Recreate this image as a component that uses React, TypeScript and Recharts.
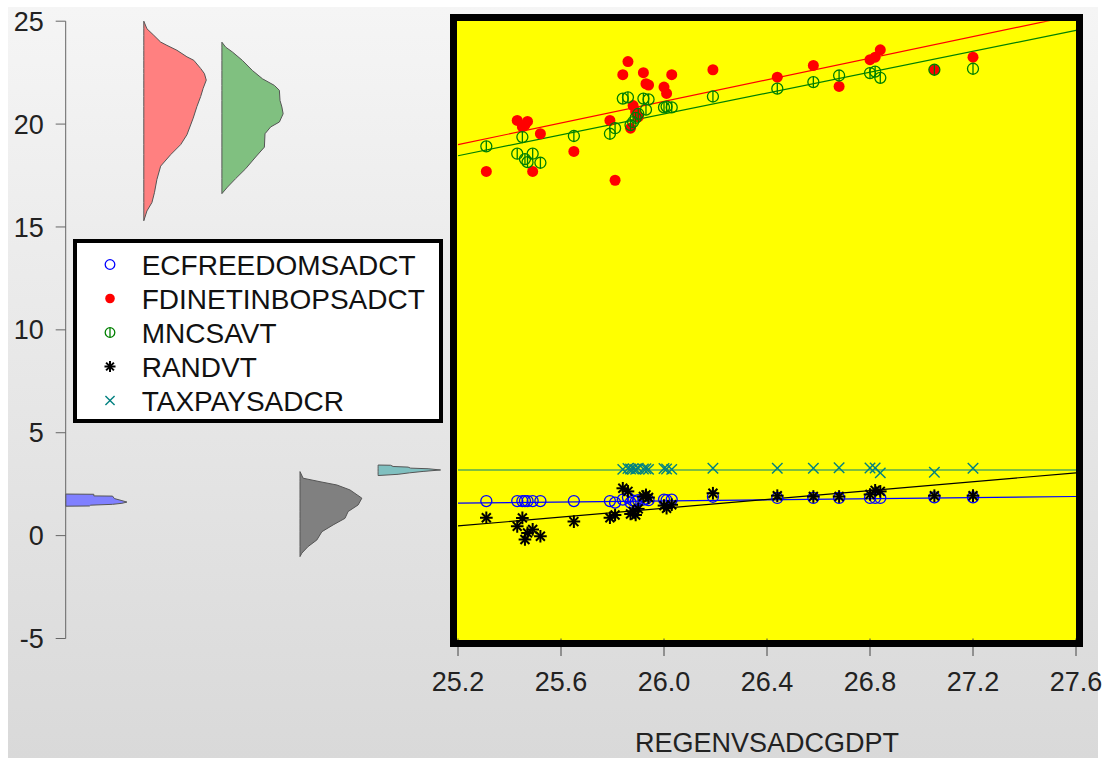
import React from 'react';
import { ComposedChart, Scatter, Line, XAxis, YAxis, Area } from 'recharts';

const seriesNames = ['ECFREEDOMSADCT', 'FDINETINBOPSADCT', 'MNCSAVT', 'RANDVT', 'TAXPAYSADCR'];
const seriesColors = ['#0000FF', '#FF0000', '#008000', '#000000', '#008080'];
const violinFills = ['#8080FF', '#FF8080', '#80C080', '#808080', '#80C0C0'];

const regenvsadcgdpt = [
  25.31, 25.43, 25.45, 25.46, 25.47, 25.49, 25.52, 25.65, 25.79, 25.81,
  25.84, 25.86, 25.87, 25.88, 25.89, 25.90, 25.92, 25.93, 25.94, 26.00, 26.01, 26.03,
  26.19, 26.44, 26.58, 26.68, 26.80, 26.82, 26.84, 27.05, 27.20,
];
const ecfreedomsadct = [
  1.68, 1.68, 1.68, 1.68, 1.68, 1.68, 1.68, 1.68, 1.68, 1.60,
  1.75, 1.85, 1.60, 1.70, 1.65, 1.72, 1.75, 1.78, 1.72, 1.75, 1.72, 1.75,
  1.89, 1.83, 1.83, 1.83, 1.83, 1.83, 1.83, 1.86, 1.86,
];
const fdinetinbopsadct = [
  17.70, 20.18, 19.86, 19.95, 20.13, 17.70, 19.53, 18.67, 20.18, 17.27,
  22.40, 23.04, 19.80, 20.90, 20.60, 20.35, 22.50, 21.96, 21.90, 21.80, 21.49, 22.40,
  22.64, 22.28, 22.85, 21.83, 23.13, 23.25, 23.61, 22.64, 23.25,
];
const mncsavt = [
  18.92, 18.56, 19.37, 18.30, 18.15, 18.56, 18.12, 19.42, 19.53, 19.80,
  21.24, 21.30, 19.95, 20.10, 20.30, 20.50, 21.24, 20.70, 21.20, 20.81, 20.85, 20.81,
  21.34, 21.72, 22.04, 22.36, 22.48, 22.55, 22.25, 22.64, 22.69,
];
const randvt = [
  0.87, 0.45, 0.86, -0.19, 0.13, 0.30, -0.03, 0.68, 0.87, 1.00,
  2.30, 2.15, 1.05, 1.17, 1.00, 1.30, 1.90, 1.98, 1.85, 1.46, 1.33, 1.50,
  2.06, 1.94, 1.90, 1.90, 2.00, 2.20, 2.15, 1.94, 1.94,
];
const taxpaysadcr = [
  null, null, null, null, null, null, null, null, null, null,
  3.22, 3.26, 3.24, 3.25, 3.22, 3.27, 3.24, 3.25, 3.22, 3.26, 3.24, 3.22,
  3.27, 3.27, 3.27, 3.30, 3.29, 3.29, 3.05, 3.08, 3.27,
];

const xTicks = [25.2, 25.6, 26.0, 26.4, 26.8, 27.2, 27.6];
const yTicks = [-5, 0, 5, 10, 15, 20, 25];

// fitted line end points (x = 25.2 and x = 27.6)
const fitX = [25.2, 27.6];
const fitEcfreedom = [1.58, 1.9];
const fitFdi = [19.0, 25.3];
const fitMnc = [18.46, 24.55];
const fitRand = [0.47, 3.05];
const fitTax = [3.19, 3.19];

// half-violin density profiles (level, relative width)
const ecfreedomDensY = [2.02, 2.01, 1.93, 1.92, 1.80, 1.70, 1.63, 1.57, 1.52, 1.48, 1.44, 1.43];
const ecfreedomDens = [0, 0.45, 0.45, 0.75, 0.78, 0.90, 0.98, 0.90, 0.75, 0.40, 0.38, 0];
const fdiDensY = [25.16, 24.79, 24.47, 24.14, 23.98, 23.74, 23.42, 23.25, 22.85, 22.6, 22.28, 21.88, 21.48, 20.99, 20.42, 19.61, 19.13, 18.64, 18.08, 17.43, 16.78, 16.3, 15.89, 15.41];
const fdiDens = [0, 0.05, 0.16, 0.27, 0.37, 0.53, 0.69, 0.8, 0.91, 0.97, 1.0, 0.95, 0.91, 0.85, 0.79, 0.69, 0.59, 0.43, 0.27, 0.21, 0.17, 0.13, 0.05, 0];
const mncDensY = [23.98, 23.74, 23.5, 23.09, 22.6, 22.2, 21.88, 21.64, 21.15, 20.83, 20.5, 20.1, 19.86, 19.53, 18.88, 18.4, 17.83, 17.35, 16.94, 16.62];
const mncDens = [0, 0.06, 0.17, 0.33, 0.49, 0.65, 0.84, 0.92, 0.93, 0.96, 0.98, 0.92, 0.78, 0.69, 0.68, 0.54, 0.38, 0.22, 0.09, 0];
const randDensY = [3.11, 2.79, 2.62, 2.46, 2.22, 1.82, 1.49, 1.17, 0.84, 0.52, 0.19, -0.21, -0.53, -0.85, -1.02];
const randDens = [0, 0.05, 0.32, 0.59, 0.8, 0.99, 0.93, 0.77, 0.72, 0.53, 0.35, 0.27, 0.13, 0.03, 0];
const taxDensY = [3.43, 3.42, 3.36, 3.33, 3.28, 3.25, 3.19, 3.12, 3.05, 2.98, 2.92];
const taxDens = [0, 0.2, 0.24, 0.48, 0.52, 0.8, 1.0, 0.72, 0.5, 0.32, 0];

const seriesValues = [ecfreedomsadct, fdinetinbopsadct, mncsavt, randvt, taxpaysadcr];
const fitValues = [fitEcfreedom, fitFdi, fitMnc, fitRand, fitTax];
const densLevels = [ecfreedomDensY, fdiDensY, mncDensY, randDensY, taxDensY];
const densWidths = [ecfreedomDens, fdiDens, mncDens, randDens, taxDens];

const FONT = '"Liberation Sans", Arial, sans-serif';
const W = 1106;
const H = 758;
const PLOT_TOP = 21.2;
const PLOT_BOTTOM = 638.5;
const VIOLIN_SCALE = 0.8;

const scatterData = seriesValues.map((vals) =>
  regenvsadcgdpt
    .map((x, i) => ({ x, y: vals[i] }))
    .filter((d) => d.y !== null && d.y !== undefined)
);
const fitData = fitValues.map((v) => fitX.map((x, i) => ({ x, y: v[i] })));

const violinData = densLevels.map((levels, s) =>
  levels.map((lv, i) => ({ y: lv, v: [s, s + densWidths[s][i] * VIOLIN_SCALE] }))
);

function Marker({ kind, cx, cy, r }: { kind: number; cx: number; cy: number; r: number }) {
  const c = seriesColors[kind];
  if (cx == null || cy == null || isNaN(cx) || isNaN(cy)) return null;
  switch (kind) {
    case 0:
      return <circle cx={cx} cy={cy} r={r} fill="none" stroke={c} strokeWidth={1.3} />;
    case 1:
      return <circle cx={cx} cy={cy} r={r} fill={c} stroke="none" />;
    case 2:
      return (
        <g>
          <circle cx={cx} cy={cy} r={r} fill="none" stroke={c} strokeWidth={1.3} />
          <line x1={cx} y1={cy - r} x2={cx} y2={cy + r} stroke={c} strokeWidth={1.3} />
        </g>
      );
    case 3: {
      const a = r * 1.15;
      const d = a * 0.7071;
      return (
        <g stroke={c} strokeWidth={2}>
          <line x1={cx - a} y1={cy} x2={cx + a} y2={cy} />
          <line x1={cx} y1={cy - a} x2={cx} y2={cy + a} />
          <line x1={cx - d} y1={cy - d} x2={cx + d} y2={cy + d} />
          <line x1={cx - d} y1={cy + d} x2={cx + d} y2={cy - d} />
        </g>
      );
    }
    default: {
      const a = r * 0.95;
      return (
        <g stroke={c} strokeWidth={1.4}>
          <line x1={cx - a} y1={cy - a} x2={cx + a} y2={cy + a} />
          <line x1={cx - a} y1={cy + a} x2={cx + a} y2={cy - a} />
        </g>
      );
    }
  }
}

function LegendBox() {
  return (
    <div
      style={{
        position: 'absolute',
        left: 73,
        top: 239,
        width: 370,
        height: 184,
        boxSizing: 'border-box',
        border: '4px solid #000',
        background: '#fff',
      }}
    >
      <svg width={362} height={176} style={{ display: 'block' }}>
        {seriesNames.map((n, i) => {
          const cy = 21.5 + 34 * i;
          return (
            <g key={n}>
              <Marker kind={i} cx={33} cy={cy} r={4.8} />
              <text x={64.7} y={cy + 10} fontSize={28} fontFamily={FONT} fill="#111">
                {n}
              </text>
            </g>
          );
        })}
      </svg>
    </div>
  );
}

function ViolinChart({ s }: { s: number }) {
  const showAxis = s === 0;
  return (
    <div style={{ position: 'absolute', left: 0, top: 0 }}>
      <ComposedChart
        layout="vertical"
        width={W}
        height={H}
        data={violinData[s]}
        margin={{ top: PLOT_TOP, right: W - 456.2, bottom: H - PLOT_BOTTOM, left: 0 }}
      >
        <XAxis type="number" domain={[0, 5]} hide />
        <YAxis
          type="number"
          dataKey="y"
          domain={[-5, 25]}
          reversed
          ticks={yTicks}
          interval={0}
          width={65.7}
          tickSize={10}
          tickMargin={12}
          stroke="#666"
          axisLine={showAxis}
          tickLine={showAxis}
          tick={showAxis ? { fontSize: 27, fill: '#222', fontFamily: FONT } : false}
        />
        <Area
          dataKey="v"
          type="linear"
          fill={violinFills[s]}
          fillOpacity={1}
          stroke="#555"
          strokeWidth={1}
          isAnimationActive={false}
          dot={false}
          activeDot={false}
        />
      </ComposedChart>
    </div>
  );
}

export default function App() {
  return (
    <div style={{ position: 'absolute', left: 0, top: 0, width: W, height: H, background: '#fff', overflow: 'hidden' }}>
      <div
        style={{
          position: 'absolute',
          left: 8,
          top: 7,
          width: 1090,
          height: 751,
          background: 'linear-gradient(#f5f5f5, #d9d9d9)',
        }}
      />
      {seriesNames.map((n, s) => (
        <ViolinChart key={n} s={s} />
      ))}
      {/* yellow plot background */}
      <div style={{ position: 'absolute', left: 457, top: 21, width: 619, height: 619, background: '#FFFF00' }} />
      {/* scatter plot */}
      <div style={{ position: 'absolute', left: 0, top: 0 }}>
        <ComposedChart width={W} height={H} margin={{ top: PLOT_TOP, right: W - 1076, bottom: 6, left: 458 }}>
          <XAxis
            type="number"
            dataKey="x"
            domain={[25.2, 27.6]}
            ticks={xTicks}
            interval={0}
            height={113.5}
            axisLine={false}
            tickSize={17.5}
            tickMargin={16}
            tickLine={{ stroke: '#444' }}
            tickFormatter={(v: number) => v.toFixed(1)}
            tick={{ fontSize: 27, fill: '#222', fontFamily: FONT }}
            label={{ value: 'REGENVSADCGDPT', position: 'insideBottom', offset: 0, fontSize: 27, fill: '#222', fontFamily: FONT }}
          />
          <YAxis type="number" dataKey="y" domain={[-5, 25]} hide allowDataOverflow />
          {seriesNames.map((n, s) => (
            <Line
              key={'fit' + n}
              data={fitData[s]}
              dataKey="y"
              stroke={seriesColors[s]}
              strokeWidth={1.2}
              dot={false}
              activeDot={false}
              isAnimationActive={false}
            />
          ))}
          {seriesNames.map((n, s) => (
            <Scatter
              key={n}
              name={n}
              data={scatterData[s]}
              dataKey="y"
              isAnimationActive={false}
              shape={(p: any) => <Marker kind={s} cx={p.cx} cy={p.cy} r={5.5} />}
            />
          ))}
        </ComposedChart>
      </div>
      {/* plot frame */}
      <div
        style={{
          position: 'absolute',
          left: 450,
          top: 14,
          width: 633,
          height: 633,
          boxSizing: 'border-box',
          border: '7px solid #000',
          pointerEvents: 'none',
        }}
      />
      <LegendBox />
    </div>
  );
}
